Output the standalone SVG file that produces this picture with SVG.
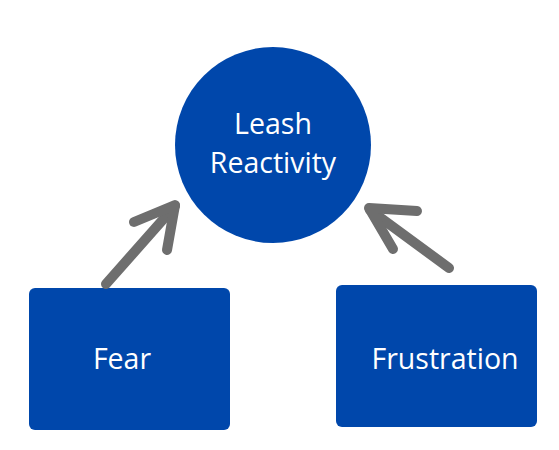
<svg xmlns="http://www.w3.org/2000/svg" width="559" height="450" viewBox="0 0 559 450">
<style>
.node{fill:#0047ab}
.lbl{font-family:"Open Sans","Noto Sans",sans-serif;font-size:28.5px;fill:#ffffff;text-anchor:middle}
.arr{fill:none;stroke:#6e6e6e;stroke-width:10;stroke-linecap:round;stroke-linejoin:round}
</style>
<rect width="559" height="450" fill="#ffffff"/>
<g id="leash">
<circle class="node" cx="273" cy="145" r="98"/>
<text class="lbl" x="273" y="134">Leash</text>
<text class="lbl" x="273" y="173">Reactivity</text>
</g>
<g id="fear">
<rect class="node" x="29" y="288" width="201" height="142" rx="6"/>
<text class="lbl" x="122" y="369">Fear</text>
</g>
<g id="frustration">
<rect class="node" x="336" y="285" width="201" height="142" rx="6"/>
<text class="lbl" x="445" y="369">Frustration</text>
</g>
<g id="connectors">
<path class="arr" d="M106 284 L175 206"/>
<path class="arr" d="M134 222 L175 205 L167 250"/>
<path class="arr" d="M449 268 L370 210"/>
<path class="arr" d="M417 211 L369 208 L393 249"/>
</g>
</svg>
